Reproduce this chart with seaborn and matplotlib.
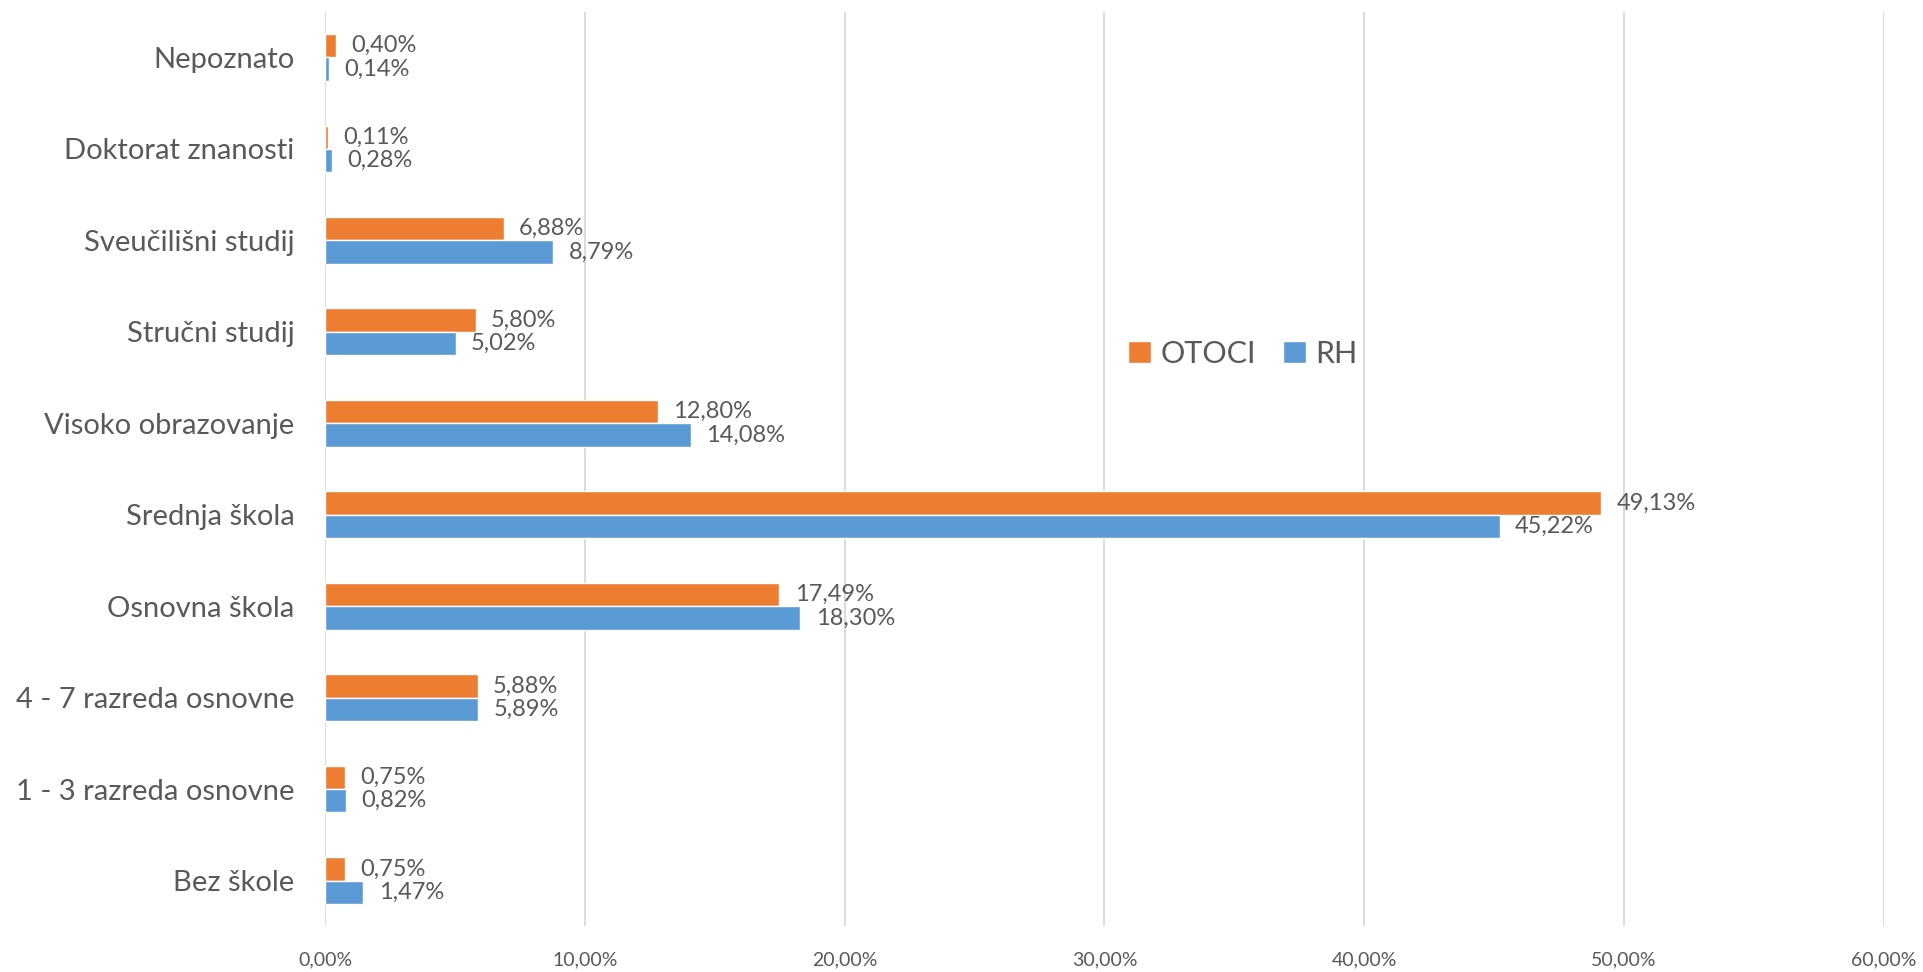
import pandas as pd
import seaborn as sns
import matplotlib.pyplot as plt
from matplotlib.ticker import FuncFormatter

categories = ['Nepoznato', 'Doktorat znanosti', 'Sveučilišni studij', 'Stručni studij',
              'Visoko obrazovanje', 'Srednja škola', 'Osnovna škola',
              '4 - 7 razreda osnovne', '1 - 3 razreda osnovne', 'Bez škole']
otoci = [0.40, 0.11, 6.88, 5.80, 12.80, 49.13, 17.49, 5.88, 0.75, 0.75]
rh = [0.14, 0.28, 8.79, 5.02, 14.08, 45.22, 18.30, 5.89, 0.82, 1.47]
series = ['OTOCI', 'RH']
xticks = [0, 10, 20, 30, 40, 50, 60]

df = pd.DataFrame({
    'kategorija': categories * 2,
    'udio': otoci + rh,
    'serija': ['OTOCI'] * len(categories) + ['RH'] * len(categories),
})

sns.set_style('white')
plt.rcParams['font.family'] = ['Lato', 'DejaVu Sans']
text_col = '#595959'

fig = plt.figure(figsize=(19.24, 9.72), dpi=100)
ax = fig.add_axes([0.169, 0.047, 0.81, 0.941])

sns.barplot(data=df, y='kategorija', x='udio', hue='serija', order=categories,
            hue_order=series, palette=['#ED7D31', '#5B9BD5'], width=0.51,
            orient='h', ax=ax, saturation=1)

def pct(v):
    return f'{v:.2f}%'.replace('.', ',')

for cont, vals in zip(ax.containers, [otoci, rh]):
    ax.bar_label(cont, labels=[pct(v) for v in vals], padding=11,
                 fontsize=17, color=text_col)

ax.set_xlim(0, 60)
ax.set_ylim(9.5, -0.5)
ax.set_xticks(xticks)
ax.xaxis.set_major_formatter(FuncFormatter(lambda v, p: pct(v)))
ax.grid(axis='x', color='#D9D9D9', linewidth=1.3)
ax.set_axisbelow(True)
for s in ax.spines.values():
    s.set_visible(False)
ax.tick_params(axis='x', length=0, pad=18, labelsize=14, labelcolor=text_col)
ax.tick_params(axis='y', length=0, pad=22, labelsize=21, labelcolor=text_col)
ax.set_xlabel('')
ax.set_ylabel('')

ax.legend(loc='center', bbox_to_anchor=(0.589, 0.626), ncol=2, frameon=False,
          fontsize=22, labelcolor=text_col, handlelength=0.75, handleheight=0.75,
          handletextpad=0.3, columnspacing=0.9)

fig.savefig('out.png', dpi=100)
